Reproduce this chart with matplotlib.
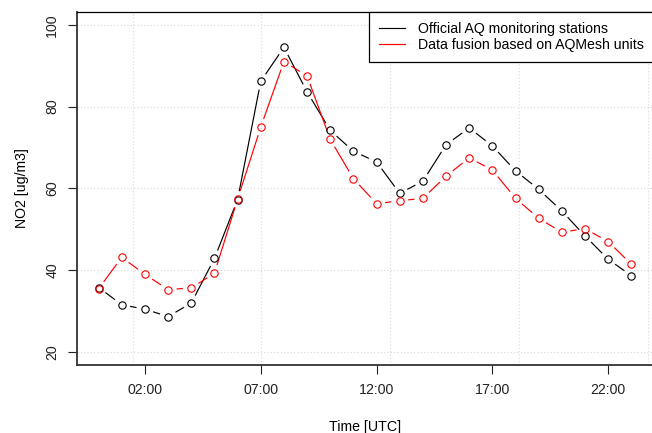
import matplotlib
matplotlib.use('Agg')
import matplotlib.pyplot as plt
import numpy as np

plt.rcParams['font.family'] = ['Liberation Sans', 'DejaVu Sans']
plt.rcParams['font.size'] = 10.2

hours = [0, 1, 2, 3, 4, 5, 6, 7, 8, 9, 10, 11, 12, 13, 14, 15, 16, 17, 18, 19, 20, 21, 22, 23]
official = [35.8, 31.6, 30.5, 28.7, 32.0, 42.9, 57.3, 86.2, 94.5, 83.6, 74.2, 69.1,
            66.5, 58.8, 61.8, 70.7, 74.8, 70.4, 64.3, 59.8, 54.5, 48.4, 42.7, 38.7]
fusion = [35.5, 43.2, 39.0, 35.3, 35.7, 39.3, 57.4, 75.0, 91.0, 87.5, 72.0, 62.4,
          56.3, 57.0, 57.6, 63.0, 67.5, 64.5, 57.6, 52.7, 49.3, 50.2, 47.0, 41.5]
tick_hours = [2, 7, 12, 17, 22]
tick_labels = ['02:00', '07:00', '12:00', '17:00', '22:00']
grid_x = [1.47, 7.0, 12.57, 18.15, 23.72]
grid_y = [20, 40, 60, 80, 100]


def plot_type_b(ax, x, y, color, gap=8.5):
    # R style type="b": line segments stop short of the points
    pts = ax.transData.transform(np.column_stack([x, y]))
    inv = ax.transData.inverted()
    for p0, p1 in zip(pts[:-1], pts[1:]):
        d = p1 - p0
        length = np.hypot(*d)
        if length <= 2 * gap:
            continue
        u = d / length
        seg = inv.transform(np.array([p0 + u * gap, p1 - u * gap]))
        ax.plot(seg[:, 0], seg[:, 1], color=color, lw=0.85, solid_capstyle='butt', zorder=3)
    ax.plot(x, y, ls='none', marker='o', ms=5.3, mfc='none', mec=color, mew=0.8, zorder=4)


fig = plt.figure(figsize=(6.52, 4.33), dpi=100)
ax = fig.add_axes([0.1186, 0.1564, 0.8824, 0.8166])
ax.set_xlim(-0.92, 23.92)
ax.set_ylim(16.8, 103.2)

for gx in grid_x:
    ax.axvline(gx, color='#d9d9d9', ls=(0, (1, 2)), lw=0.8, zorder=1)
for gy in grid_y:
    ax.axhline(gy, color='#d9d9d9', ls=(0, (1, 2)), lw=0.8, zorder=1)

plot_type_b(ax, hours, official, 'black')
plot_type_b(ax, hours, fusion, '#ff0000')

ax.set_xticks(tick_hours)
ax.set_xticklabels(tick_labels)
ax.set_yticks(grid_y)
ax.tick_params(direction='out', length=6.5, width=0.8, pad=6.5, colors='#222222')
for lbl in ax.get_yticklabels():
    lbl.set_rotation(90)
    lbl.set_va('center')

for side in ['left', 'bottom']:
    ax.spines[side].set_linewidth(1.3)
    ax.spines[side].set_color('#333333')
ax.spines['top'].set_linewidth(0.9)
ax.spines['right'].set_linewidth(0.9)

ax.set_xlabel('Time [UTC]', labelpad=16)
ax.set_ylabel('NO2 [ug/m3]', labelpad=12)

handles = [plt.Line2D([], [], color='black', lw=0.85),
           plt.Line2D([], [], color='#ff0000', lw=0.85)]
leg = fig.legend(handles, ['Official AQ monitoring stations', 'Data fusion based on AQMesh units'],
                 loc='upper left', bbox_to_anchor=(368.7 / 652, 1 - 11.7 / 433),
                 bbox_transform=fig.transFigure, borderaxespad=0, fancybox=False,
                 framealpha=1, edgecolor='black', handlelength=1.85, handletextpad=0.95,
                 borderpad=0.7, labelspacing=0.2)
leg.get_frame().set_linewidth(0.9)

fig.savefig('out.png', dpi=100)
